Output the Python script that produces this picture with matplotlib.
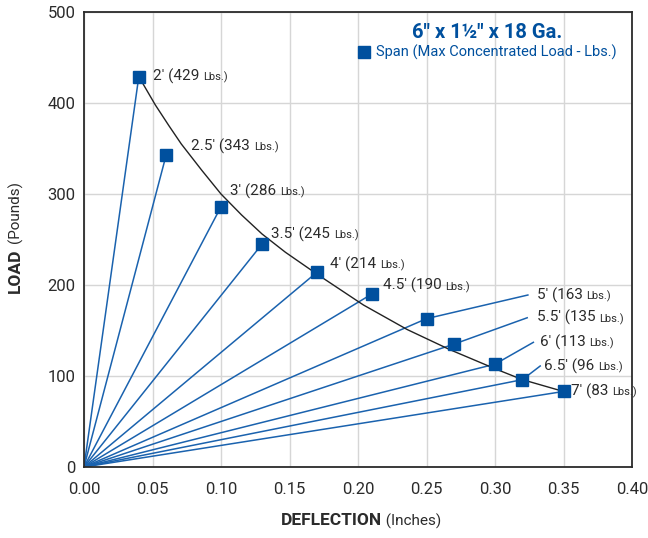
import matplotlib
matplotlib.use("Agg")
import matplotlib.pyplot as plt
from matplotlib.offsetbox import TextArea, HPacker, AnnotationBbox, DrawingArea
from matplotlib.patches import Rectangle

plt.rcParams['font.family'] = ['Roboto', 'DejaVu Sans']

# spans with their max concentrated load
span_names = ["2'", "2.5'", "3'", "3.5'", "4'", "4.5'", "5'", "5.5'", "6'", "6.5'", "7'"]
max_load = [429, 343, 286, 245, 214, 190, 163, 135, 113, 96, 83]
deflection = [0.04, 0.06, 0.10, 0.13, 0.17, 0.21, 0.25, 0.27, 0.30, 0.32, 0.35]

# leader line ends for the long spans (5' .. 6.5')
leader_x = [0.324, 0.3235, 0.328, 0.333]
leader_y = [189, 164, 137, 111]

# black trend curve
curve_x = [0.040, 0.052, 0.062, 0.071, 0.086, 0.100, 0.115, 0.130, 0.147, 0.170,
           0.204, 0.236, 0.267, 0.300, 0.320, 0.350]
curve_y = [429, 398, 375, 355, 326, 300, 277, 256, 236, 212, 178, 151, 129, 108, 96, 83]

x_ticks = [0.00, 0.05, 0.10, 0.15, 0.20, 0.25, 0.30, 0.35, 0.40]
y_ticks = [0, 100, 200, 300, 400, 500]

MARK = '#00509e'
LINE = '#1a62ae'
TXT = '#2b2b2b'

fig = plt.figure(figsize=(6.48, 5.38), dpi=100)
ax = fig.add_axes([84 / 648, 71 / 538, 548 / 648, 455 / 538])

ax.set_xlim(0, 0.40)
ax.set_ylim(0, 500)
ax.set_xticks(x_ticks)
ax.set_yticks(y_ticks)
ax.set_xticklabels([f"{v:.2f}" for v in x_ticks])
ax.set_yticklabels([str(v) for v in y_ticks])
ax.tick_params(length=0, labelsize=12, labelcolor=TXT)
ax.tick_params(axis='x', pad=11)
ax.tick_params(axis='y', pad=6)
ax.grid(True, color='#d6d6d6', lw=1)
ax.set_axisbelow(True)
for s in ax.spines.values():
    s.set_color('#2b2b2b')
    s.set_linewidth(1.3)

# lines from origin to each point, plus leaders for long spans
n_lead = len(leader_x)
first_lead = len(span_names) - 1 - n_lead
for i in range(len(span_names)):
    xs = [0, deflection[i]]
    ys = [0, max_load[i]]
    j = i - first_lead
    if 0 <= j < n_lead:
        xs.append(leader_x[j])
        ys.append(leader_y[j])
    ax.plot(xs, ys, color=LINE, lw=1.1, zorder=2)

ax.plot(curve_x, curve_y, color='#222222', lw=1.0, zorder=3)
ax.plot(deflection, max_load, 's', color=MARK, ms=8, zorder=4, clip_on=False)

# label offsets (points) from marker / leader end
offsets = [(10, 0), (18, 6), (6.5, 11), (6.5, 7), (9.5, 6), (8, 6),
           (6.5, 0), (7, 0), (4.5, 0), (3, 0), (5.5, 0)]


def span_label(name, load):
    a = TextArea(f"{name} ({load} ", textprops=dict(size=11, color=TXT))
    b = TextArea("Lbs.)", textprops=dict(size=8, color=TXT))
    return HPacker(children=[a, b], align="baseline", pad=0, sep=0)


for i, name in enumerate(span_names):
    j = i - first_lead
    if 0 <= j < n_lead:
        xy = (leader_x[j], leader_y[j])
    else:
        xy = (deflection[i], max_load[i])
    ab = AnnotationBbox(span_label(name, max_load[i]), xy, xybox=offsets[i],
                        boxcoords="offset points", box_alignment=(0, 0.5),
                        frameon=False, pad=0, annotation_clip=False)
    ax.add_artist(ab)

# title and legend block
fig.text(487 / 648, 1 - 32 / 538, '6" x 1\u00bd" x 18 Ga.', ha='center', va='center',
         fontsize=14.5, fontweight='bold', color=MARK)
da = DrawingArea(11, 9, 0, 0)
da.add_artist(Rectangle((0.5, 0), 8.5, 8.5, color=MARK))
leg = HPacker(children=[da, TextArea("Span (Max Concentrated Load - Lbs.)",
                                     textprops=dict(size=10.5, color=MARK))],
              align="center", pad=0, sep=2)
fig.add_artist(AnnotationBbox(leg, (487 / 648, 1 - 52 / 538), xycoords='figure fraction',
                              box_alignment=(0.5, 0.5), frameon=False, pad=0))

# axis labels with bold / normal parts
xl = HPacker(children=[TextArea("DEFLECTION", textprops=dict(size=12.5, weight='bold', color=TXT)),
                       TextArea(" (Inches)", textprops=dict(size=11, color=TXT))],
             align="baseline", pad=0, sep=0)
fig.add_artist(AnnotationBbox(xl, (361 / 648, 1 - 521 / 538), xycoords='figure fraction',
                              box_alignment=(0.5, 0.5), frameon=False, pad=0))

fig.text(15 / 648, 1 - 271 / 538, "LOAD", rotation=90, ha='center', va='center',
         fontsize=12.5, fontweight='bold', color=TXT)
fig.text(15 / 648, 1 - 212 / 538, "(Pounds)", rotation=90, ha='center', va='center',
         fontsize=11, color=TXT)

fig.savefig("out.png", dpi=100)
